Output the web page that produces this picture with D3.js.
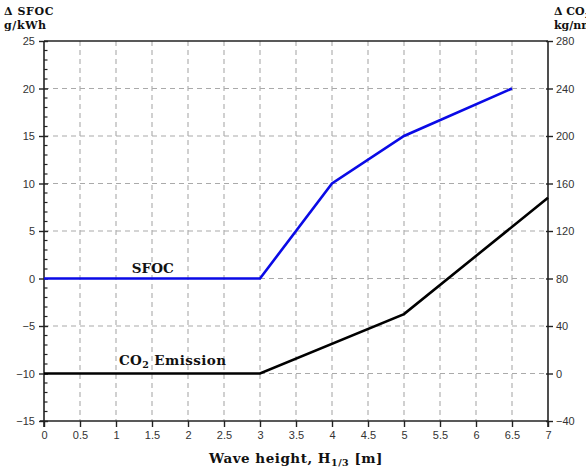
<!DOCTYPE html>
<html>
<head>
<meta charset="utf-8">
<script src="https://cdn.jsdelivr.net/npm/d3@7"></script>
<style>
  html, body { margin: 0; padding: 0; background: #fff; overflow: hidden; }
  svg { display: block; }
  .tick text { font-family: "Liberation Sans", Arial, sans-serif; font-size: 11px; fill: #333; }
  .title { font-family: "DejaVu Serif", "Liberation Serif", serif; font-weight: bold; fill: #111; }
</style>
</head>
<body>
<svg id="chart" width="586" height="472"></svg>
<script>
// Wave height vs. change in SFOC (left axis) and CO2 emission (right axis)
const sfocWave = [0, 3, 4, 5, 6.5];
const sfocDelta = [0, 0, 10, 15, 20];
const co2Wave = [0, 3, 5, 7];
const co2Delta = [0, 0, 50, 148];

const xTicks = [0, 0.5, 1, 1.5, 2, 2.5, 3, 3.5, 4, 4.5, 5, 5.5, 6, 6.5, 7];
const leftTicks = [-15, -10, -5, 0, 5, 10, 15, 20, 25];
const leftMinor = d3.range(-15, 26, 1);
const rightTicks = [-40, 0, 40, 80, 120, 160, 200, 240, 280];

const svg = d3.select("#chart");
const L = 44, R = 548, T = 41, B = 421;

const x = d3.scaleLinear().domain([0, 7]).range([L, R]);
const yL = d3.scaleLinear().domain([-15, 25]).range([B, T]);
const yR = d3.scaleLinear().domain([-40, 280]).range([B, T]);

// dashed grid
const grid = svg.append("g").attr("stroke", "#aaa").attr("stroke-width", 1.1)
  .attr("stroke-dasharray", "5,4");
grid.selectAll("line.v").data(xTicks.filter(d => d > 0 && d < 7)).join("line")
  .attr("x1", d => x(d)).attr("x2", d => x(d)).attr("y1", T).attr("y2", B);
grid.selectAll("line.h").data(leftTicks.filter(d => d > -15 && d < 25)).join("line")
  .attr("x1", L).attr("x2", R).attr("y1", d => yL(d)).attr("y2", d => yL(d));

// top frame line
svg.append("line").attr("x1", L).attr("x2", R).attr("y1", T).attr("y2", T)
  .attr("stroke", "#222").attr("stroke-width", 1.5);

// bottom axis
const xAxis = svg.append("g").attr("transform", `translate(0,${B})`)
  .call(d3.axisBottom(x).tickValues(xTicks).tickSize(6).tickPadding(4).tickFormat(d3.format("")));
xAxis.select(".domain").attr("stroke", "#222").attr("stroke-width", 1.6).attr("d", `M${L - 4},0H${R}`);
xAxis.selectAll(".tick line").attr("stroke", "#222").attr("stroke-width", 1.4);

// left axis, minor ticks inside
svg.append("g").selectAll("line").data(leftMinor.filter(d => d % 5 !== 0)).join("line")
  .attr("x1", L).attr("x2", L + 3.5).attr("y1", d => yL(d)).attr("y2", d => yL(d))
  .attr("stroke", "#222").attr("stroke-width", 1.2);
const yAxisL = svg.append("g").attr("transform", `translate(${L},0)`)
  .call(d3.axisLeft(yL).tickValues(leftTicks).tickSize(5).tickPadding(4));
yAxisL.select(".domain").attr("stroke", "#222").attr("stroke-width", 1.6).attr("d", `M0,${T}V${B + 6}`);
yAxisL.selectAll(".tick line").attr("stroke", "#222").attr("stroke-width", 1.4).attr("x2", 4).attr("x1", -5);

// right axis
const yAxisR = svg.append("g").attr("transform", `translate(${R},0)`)
  .call(d3.axisRight(yR).tickValues(rightTicks).tickSize(5).tickPadding(3));
yAxisR.select(".domain").attr("stroke", "#222").attr("stroke-width", 1.6).attr("d", `M0,${T}V${B + 6}`);
yAxisR.selectAll(".tick line").attr("stroke", "#222").attr("stroke-width", 1.4).attr("x1", -2);

// series
const sfocLine = d3.line().x(d => x(d[0])).y(d => yL(d[1]));
svg.append("path").datum(d3.zip(sfocWave, sfocDelta))
  .attr("d", sfocLine).attr("fill", "none").attr("stroke", "#0a0ae6").attr("stroke-width", 2.6);
const co2Line = d3.line().x(d => x(d[0])).y(d => yR(d[1]));
svg.append("path").datum(d3.zip(co2Wave, co2Delta))
  .attr("d", co2Line).attr("fill", "none").attr("stroke", "#000").attr("stroke-width", 2.6);

// series labels
svg.append("text").attr("class", "title").attr("x", x(1.22)).attr("y", yL(0) - 6)
  .attr("font-size", 13.5).text("SFOC");
const co2Lab = svg.append("text").attr("class", "title").attr("x", x(1.04)).attr("y", yL(-10) - 9)
  .attr("font-size", 13.5).attr("letter-spacing", 0.4);
co2Lab.append("tspan").text("CO");
co2Lab.append("tspan").attr("font-size", 9.5).attr("dy", 3).text("2");
co2Lab.append("tspan").attr("dy", -3).text(" Emission");

// axis titles
svg.append("text").attr("class", "title").attr("x", 4).attr("y", 15).attr("font-size", 11)
  .attr("letter-spacing", 0.6).text("Δ SFOC");
svg.append("text").attr("class", "title").attr("x", 4).attr("y", 29).attr("font-size", 11)
  .attr("letter-spacing", 0.6).text("g/kWh");
const rt = svg.append("text").attr("class", "title").attr("x", 554).attr("y", 15).attr("font-size", 11);
rt.append("tspan").text("Δ CO");
rt.append("tspan").attr("font-size", 8).attr("dy", 3).text("2");
svg.append("text").attr("class", "title").attr("x", 554).attr("y", 29).attr("font-size", 11).text("kg/nm");

const xt = svg.append("text").attr("class", "title").attr("x", (L + R) / 2).attr("y", 463)
  .attr("text-anchor", "middle").attr("font-size", 13.5).attr("letter-spacing", 0.5);
xt.append("tspan").text("Wave height,  H");
xt.append("tspan").attr("font-size", 9.5).attr("dy", 3).text("1/3");
xt.append("tspan").attr("dy", -3).text(" [m]");
</script>
</body>
</html>
